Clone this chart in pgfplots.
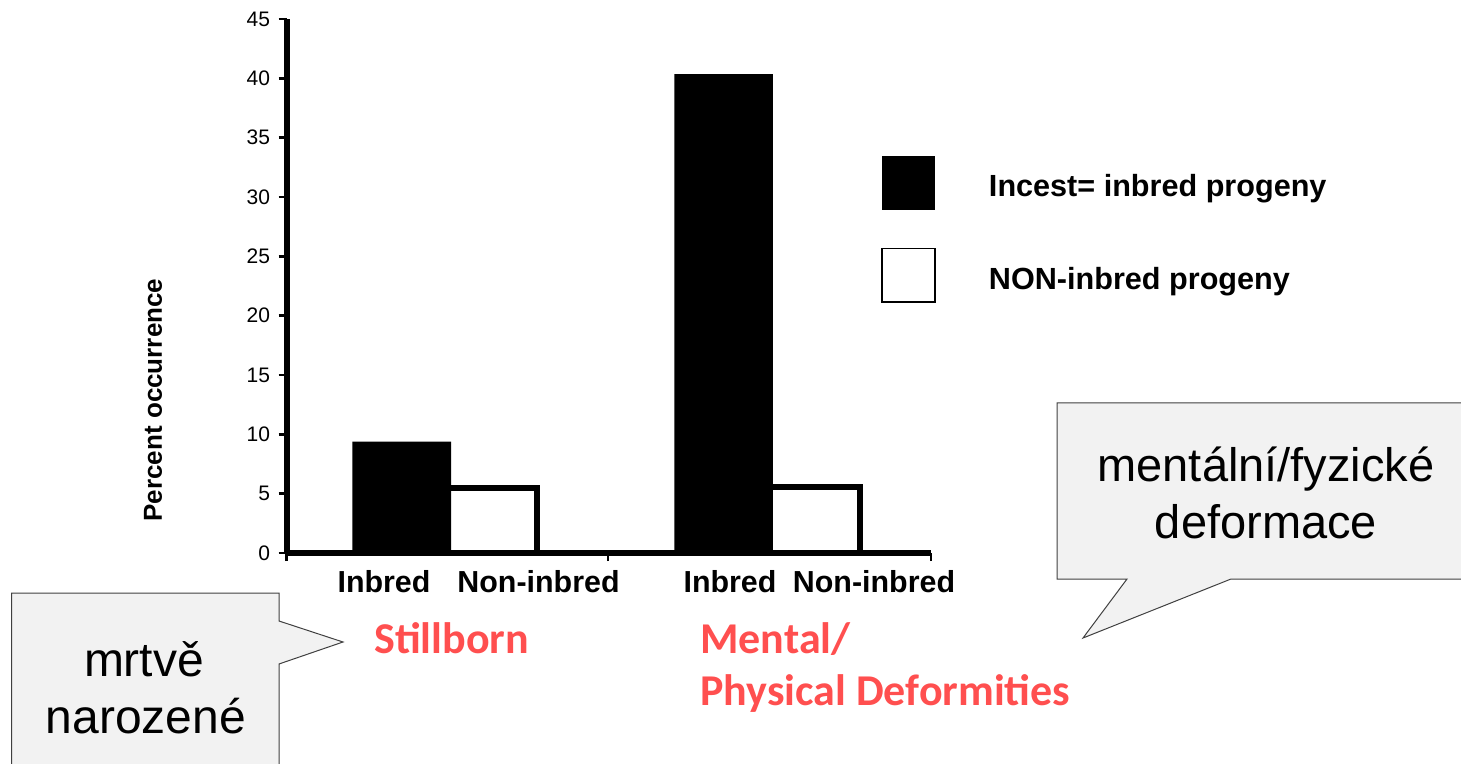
\documentclass[border=0pt]{standalone}
\usepackage{pgfplots}
\pgfplotsset{compat=1.18}
\usepackage{fontspec}
\setmainfont{Liberation Sans}
\newfontfamily\carlito{Carlito}
\definecolor{calloutfill}{HTML}{F2F2F2}
\definecolor{calloutdraw}{HTML}{404040}
\definecolor{labelred}{HTML}{FF4F4F}
\begin{document}
\begin{tikzpicture}
\useasboundingbox (0,0) rectangle (730.5pt,-382pt);
\clip (0,0) rectangle (730.5pt,-382pt);
\begin{axis}[
  at={(143.25pt,-276.5pt)}, anchor=south west,
  scale only axis, width=322.25pt, height=267pt,
  xmin=286.5, xmax=931, ymin=0, ymax=45,
  axis lines=left, axis line style={-, line width=3pt},
  axis on top, clip=false,
  tick align=outside, major tick length=4pt,
  major tick style={line width=1.2pt, black},
  ytick={0,5,...,45},
  xtick={286.5,608,931}, xticklabels={,,},
  yticklabel style={font=\fontsize{10.5}{12}\selectfont, inner sep=0pt, xshift=-4pt},
  /pgf/number format/assume math mode=true,
  extra x ticks={384,538.5,730,874},
  extra x tick labels={Inbred,Non-inbred,Inbred,Non-inbred},
  extra x tick style={major tick length=0pt, tick label style={font=\bfseries\fontsize{15.2}{18}\selectfont, anchor=north, inner sep=0pt, text height=10.9pt, text depth=0pt, yshift=-8.5pt}},
  ylabel={Percent occurrence},
  ylabel style={font=\bfseries\fontsize{13}{15}\selectfont, at={(axis description cs:-0.2071,0.2865)}, anchor=center},
  legend style={draw=none, fill=none, inner sep=0pt,
    at={(axis description cs:0.9224,0.744)}, anchor=north west,
    row sep=19.05pt, font=\bfseries\fontsize{15.3}{18}\selectfont,
    nodes={inner sep=0pt}, cells={anchor=base west},
    /tikz/every odd column/.append style={column sep=26.5pt}},
]
\addplot[ybar, bar width=90.4, bar shift=0pt, fill=white, draw=black, line width=3pt,
  forget plot]
  coordinates {(492.25,5.5) (815.2,5.53)};
\addplot[ybar, bar width=98.6, bar shift=0pt, fill=black, draw=none,
  legend image code/.code={\fill[black] (0pt,-6.5pt) rectangle (26.5pt,20.25pt);}]
  coordinates {(401.7,9.38) (723.65,40.36)};
\addlegendentry{Incest= inbred progeny}
\addplot[draw=none, fill=white, forget plot=false,
  legend image code/.code={\draw[black, fill=white, line width=0.8pt] (0pt,-6.5pt) rectangle (26.5pt,20.25pt);}]
  coordinates {(492.25,0)};
\addlegendentry{NON-inbred progeny}
\end{axis}
\begin{scope}[x=0.5pt,y=-0.5pt]
\draw[fill=calloutfill, draw=calloutdraw, line width=0.5pt]
  (1057,403) -- (1475,403) -- (1475,579) -- (1231,579) -- (1083,638) -- (1127,579) -- (1057,579) -- cycle;
\draw[fill=calloutfill, draw=calloutdraw, line width=0.5pt]
  (11.7,593) -- (279,593) -- (279,621) -- (343,642) -- (279,664) -- (279,790) -- (11.7,790) -- cycle;
\node[anchor=base, inner sep=0pt, font=\fontsize{23.5}{28}\selectfont] at (1266,481) {mentální/fyzické};
\node[anchor=base, inner sep=0pt, font=\fontsize{23.5}{28}\selectfont] at (1266,538) {deformace};
\node[anchor=base, inner sep=0pt, font=\fontsize{24}{29}\selectfont] at (144,676) {mrtvě};
\node[anchor=base, inner sep=0pt, font=\fontsize{24}{29}\selectfont] at (146,733) {narozené};
\node[anchor=base west, inner sep=0pt, text=labelred, font=\carlito\bfseries\fontsize{22}{26}\selectfont] at (374,653) {Stillborn};
\node[anchor=base west, inner sep=0pt, text=labelred, font=\carlito\bfseries\fontsize{22}{26}\selectfont] at (700,653) {Mental/};
\node[anchor=base west, inner sep=0pt, text=labelred, font=\carlito\bfseries\fontsize{22}{26}\selectfont] at (700,705) {Physical Deformities};
\end{scope}
\end{tikzpicture}
\end{document}
